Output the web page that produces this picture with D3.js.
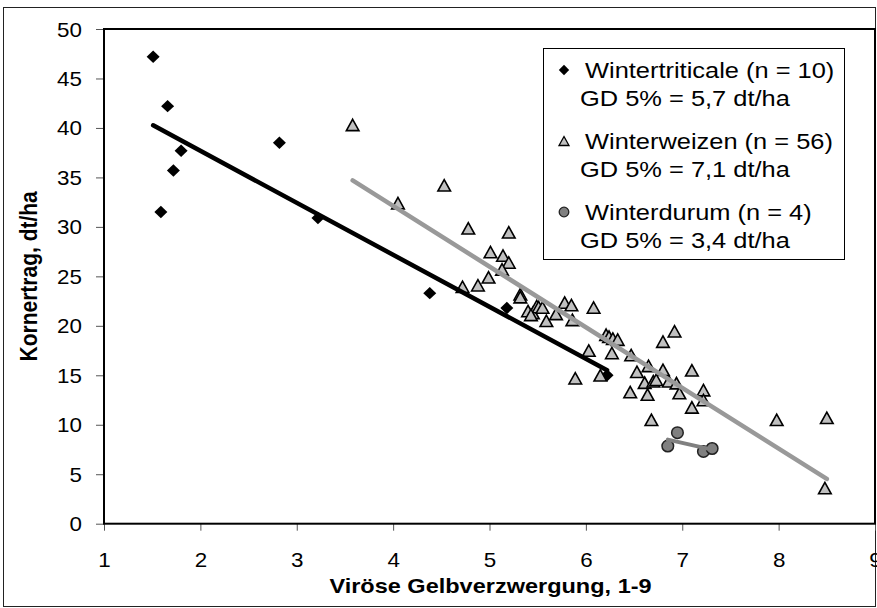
<!DOCTYPE html>
<html><head><meta charset="utf-8">
<script src="https://cdn.jsdelivr.net/npm/d3@7"></script>
<style>html,body{margin:0;padding:0;background:#fff}svg{display:block}</style>
</head><body>
<script>
// ---- data ----
const triticaleX = [1.51,1.66,1.80,1.72,1.59,2.82,3.22,4.38,5.18,6.22];
const triticaleY = [47.2,42.2,37.7,35.7,31.5,38.5,30.9,23.3,21.8,15.0];
const weizenX = [3.58,4.05,4.53,4.78,4.72,4.88,4.99,5.01,5.14,5.20,5.20,5.13,5.32,5.32,5.40,5.45,5.49,5.51,5.55,5.43,
  5.59,5.69,5.78,5.85,5.86,6.08,6.21,6.24,6.28,6.33,6.92,6.80,6.03,6.27,6.47,6.65,6.80,6.53,7.10,6.61,
  6.70,6.73,6.86,6.94,6.97,7.22,7.22,6.15,5.89,6.46,6.64,7.10,6.68,7.98,8.50,8.48];
const weizenY = [40.3,32.4,34.2,29.85,23.95,24.1,24.9,27.45,27.1,29.45,26.4,25.7,23.2,22.9,21.5,21.3,22.0,21.9,21.85,21.1,
  20.5,21.2,22.35,22.1,20.6,21.85,19.1,18.9,18.7,18.6,19.45,18.4,17.5,17.25,17.05,15.95,15.55,15.35,15.5,14.25,
  14.4,14.55,14.4,14.2,13.2,13.5,12.5,15.0,14.7,13.3,13.05,11.75,10.5,10.5,10.7,3.6];
const durumX = [6.85,6.95,7.22,7.31];
const durumY = [7.85,9.2,7.3,7.6];
const xTicks = [1,2,3,4,5,6,7,8,9];
const yTicks = [0,5,10,15,20,25,30,35,40,45,50];
const legendLines = [
  ["Wintertriticale (n = 10)","GD 5% = 5,7 dt/ha"],
  ["Winterweizen (n = 56)","GD 5% = 7,1 dt/ha"],
  ["Winterdurum (n = 4)","GD 5% = 3,4 dt/ha"]
];
const xTitle = "Viröse Gelbverzwergung, 1-9";
const yTitle = "Kornertrag, dt/ha";

// ---- layout ----
const W = 877, H = 608, SX = 1.12;
const FONT = "'Liberation Sans', Arial, sans-serif";
const svg = d3.select("body").append("svg").attr("width", W).attr("height", H);
const x = d3.scaleLinear().domain([1,9]).range([104,875]);
const y = d3.scaleLinear().domain([0,50]).range([523.7,29]);

svg.append("rect").attr("x",3.5).attr("y",7.5).attr("width",872).attr("height",599)
  .attr("fill","#fff").attr("stroke","#222").attr("stroke-width",1);

// axes
const gx = svg.append("g").attr("transform",`translate(0,${y(0)})`)
  .call(d3.axisBottom(x).tickValues(xTicks).tickSize(7).tickPadding(0).tickFormat(d3.format("d")));
const gy = svg.append("g").attr("transform",`translate(${x(1)},0)`)
  .call(d3.axisLeft(y).tickValues(yTicks).tickSize(8).tickPadding(0).tickFormat(d3.format("d")));
[gx,gy].forEach(g=>{
  g.select(".domain").remove();
  g.selectAll(".tick line").attr("stroke","#555").attr("stroke-width",1);
  g.selectAll(".tick text").attr("font-family",FONT).attr("font-size",20).attr("fill","#000");
});
gx.selectAll(".tick text").attr("y",null).attr("dy",null)
  .attr("transform",`translate(0,43) scale(${SX},1)`);
gy.selectAll(".tick text").attr("x",null).attr("dy",null)
  .attr("transform",`translate(-22,7) scale(${SX},1)`);

// plot frame
svg.append("rect").attr("x",x(1)).attr("y",y(50)).attr("width",x(9)-x(1)).attr("height",y(0)-y(50))
  .attr("fill","none").attr("stroke","#000").attr("stroke-width",2);

// titles
svg.append("text").attr("transform",`translate(${(x(1)+x(9))/2 + 1},593) scale(${SX},1)`)
  .attr("text-anchor","middle").attr("font-family",FONT).attr("font-weight","bold").attr("font-size",21)
  .text(xTitle);
svg.append("text").attr("transform",`translate(37,${(y(0)+y(50))/2}) rotate(-90) scale(1,${SX})`)
  .attr("text-anchor","middle").attr("font-family",FONT).attr("font-weight","bold").attr("font-size",21)
  .text(yTitle);

// marker shapes
const diamond = (w,h)=>`M0,${-h}L${w},0L0,${h}L${-w},0Z`;
const tri = (w,h)=>`M0,${-h}L${w},${h}L${-w},${h}Z`;

const plot = svg.append("g");
const tri0 = d3.zip(triticaleX, triticaleY);
const wei0 = d3.zip(weizenX, weizenY);
const dur0 = d3.zip(durumX, durumY);

plot.selectAll(".d").data(tri0).join("path").attr("class","d")
  .attr("transform",d=>`translate(${x(d[0])},${y(d[1])})`).attr("d",diamond(6.5,6.2)).attr("fill","#000");
plot.selectAll(".t").data(wei0).join("path").attr("class","t")
  .attr("transform",d=>`translate(${x(d[0])},${y(d[1])})`).attr("d",tri(6.3,5.7))
  .attr("fill","#c0c0c0").attr("stroke","#000").attr("stroke-width",1.6).attr("stroke-linejoin","miter");
plot.selectAll(".c").data(dur0).join("circle").attr("class","c")
  .attr("cx",d=>x(d[0])).attr("cy",d=>y(d[1])).attr("r",5.8)
  .attr("fill","#808080").attr("stroke","#222").attr("stroke-width",1.5);

// linear trendlines (least squares from data)
function fit(pts){
  const mx=d3.mean(pts,d=>d[0]), my=d3.mean(pts,d=>d[1]);
  const b=d3.sum(pts,d=>(d[0]-mx)*(d[1]-my))/d3.sum(pts,d=>(d[0]-mx)**2);
  const a=my-b*mx; const [x0,x1]=d3.extent(pts,d=>d[0]);
  return [[x0,a+b*x0],[x1,a+b*x1]];
}
const line = d3.line().x(d=>x(d[0])).y(d=>y(d[1]));
[[tri0,"#000",4.5],[wei0,"#999999",4.5],[dur0,"#808080",4]].forEach(([p,c,w])=>{
  plot.append("path").attr("d",line(fit(p))).attr("fill","none").attr("stroke",c)
    .attr("stroke-width",w).attr("stroke-linecap","round");
});

// legend
const lg = svg.append("g");
lg.append("rect").attr("x",543.5).attr("y",48.5).attr("width",301).attr("height",211)
  .attr("fill","#fff").attr("stroke","#000").attr("stroke-width",1);
const base = [78,149,220];
legendLines.forEach((L,i)=>{
  lg.append("text").attr("transform",`translate(585,${base[i]}) scale(${SX},1)`)
    .attr("font-family",FONT).attr("font-size",22.7).text(L[0]);
  lg.append("text").attr("transform",`translate(580,${base[i]+28}) scale(${SX},1)`)
    .attr("font-family",FONT).attr("font-size",22.7).text(L[1]);
});
const my = base.map(b=>b-8);
lg.append("path").attr("transform",`translate(564,${my[0]})`).attr("d",diamond(5.2,5.2)).attr("fill","#000");
lg.append("path").attr("transform",`translate(564,${my[1]})`).attr("d",tri(5,4.5))
  .attr("fill","#c0c0c0").attr("stroke","#000").attr("stroke-width",1.3);
lg.append("circle").attr("cx",564).attr("cy",my[2]).attr("r",4.8)
  .attr("fill","#808080").attr("stroke","#222").attr("stroke-width",1.3);
</script>
</body></html>
